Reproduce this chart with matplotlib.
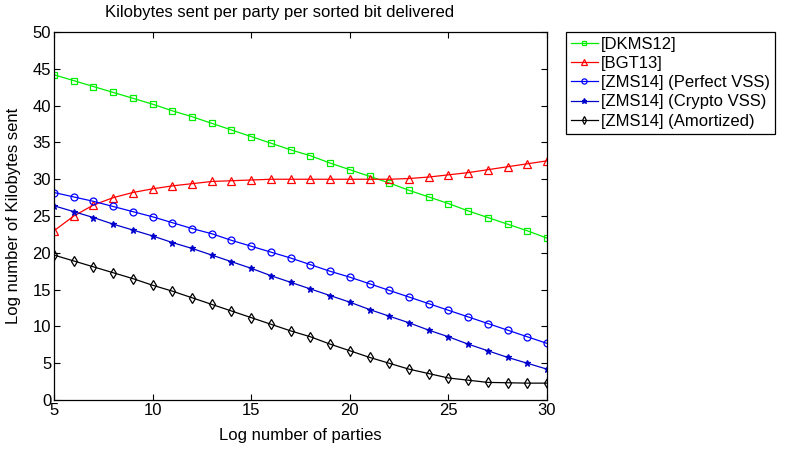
import matplotlib
matplotlib.use("Agg")
from matplotlib import pyplot as plt
import numpy as np

parties = list(range(5, 31))

dkms12 = [44.2, 43.4, 42.6, 41.8, 41.0, 40.2, 39.3, 38.5, 37.6, 36.7, 35.8, 34.9, 34.0,
          33.2, 32.2, 31.3, 30.4, 29.5, 28.5, 27.6, 26.7, 25.7, 24.8, 23.9, 23.0, 22.0]
bgt13 = [23.0, 25.0, 26.5, 27.5, 28.2, 28.7, 29.1, 29.4, 29.7, 29.8, 29.9, 30.0, 30.0,
         30.0, 30.0, 30.0, 30.0, 30.0, 30.1, 30.3, 30.6, 30.9, 31.3, 31.7, 32.1, 32.5]
zms14_perfect = [28.2, 27.6, 27.0, 26.3, 25.6, 24.9, 24.1, 23.3, 22.6, 21.7, 20.9, 20.1, 19.3,
                 18.4, 17.5, 16.7, 15.8, 14.9, 14.0, 13.1, 12.2, 11.3, 10.4, 9.5, 8.6, 7.7]
zms14_crypto = [26.4, 25.6, 24.8, 23.9, 23.1, 22.3, 21.4, 20.6, 19.7, 18.8, 17.9, 16.9, 16.0,
                15.1, 14.2, 13.3, 12.3, 11.4, 10.5, 9.5, 8.6, 7.6, 6.7, 5.8, 5.0, 4.2]
zms14_amort = [19.7, 18.9, 18.1, 17.3, 16.5, 15.6, 14.8, 13.9, 13.0, 12.1, 11.2, 10.3, 9.4,
               8.6, 7.6, 6.7, 5.8, 5.0, 4.2, 3.6, 3.0, 2.7, 2.4, 2.35, 2.3, 2.3]

labels = ["[DKMS12]", "[BGT13]", "[ZMS14] (Perfect VSS)", "[ZMS14] (Crypto VSS)",
          "[ZMS14] (Amortized)"]

plt.rcParams["font.family"] = ["Liberation Sans", "DejaVu Sans"]
plt.rcParams["font.size"] = 12

fig = plt.figure(figsize=(7.85, 4.49), dpi=100)
ax = fig.add_axes([0.0688, 0.109, 0.628, 0.8196])

stil = [
    (dkms12, "#00ee00", "s", "none", 4.5),
    (bgt13, "#ff0000", "^", "none", 5.5),
    (zms14_perfect, "#0000ff", "o", "none", 5),
    (zms14_crypto, "#0000cc", "*", "#0000cc", 5),
    (zms14_amort, "#000000", "d", "none", 5),
]
for (verdier, farge, markor, fyll, str_), navn in zip(stil, labels):
    ax.plot(parties, verdier, color=farge, marker=markor, markerfacecolor=fyll,
            markeredgecolor=farge, markersize=str_, linewidth=0.9, markeredgewidth=0.9,
            label=navn)

ax.set_xlim(5, 30)
ax.set_ylim(0, 50)
ax.set_xticks(range(5, 31, 5))
ax.set_yticks(range(0, 51, 5))
ax.tick_params(direction="in", top=True, right=True, length=4.5, width=0.8,
               labelsize=12, pad=2)
for s in ax.spines.values():
    s.set_linewidth(0.9)
ax.set_xlabel("Log number of parties", fontsize=12, labelpad=7)
ax.set_ylabel("Log number of Kilobytes sent", fontsize=12, labelpad=8)
fig.text(280 / 785, 1 - 13 / 449, "Kilobytes sent per party per sorted bit delivered",
         fontsize=12, ha="center", va="center")

leg = fig.legend(loc="upper left", bbox_to_anchor=(0.721, 0.929), fontsize=12,
                 handlelength=1.6, handletextpad=0.2, labelspacing=0.25,
                 borderaxespad=0, fancybox=False, framealpha=1, edgecolor="black",
                 borderpad=0.3, markerscale=0.75)
leg.get_frame().set_linewidth(0.9)

fig.savefig("out.png", dpi=100)
